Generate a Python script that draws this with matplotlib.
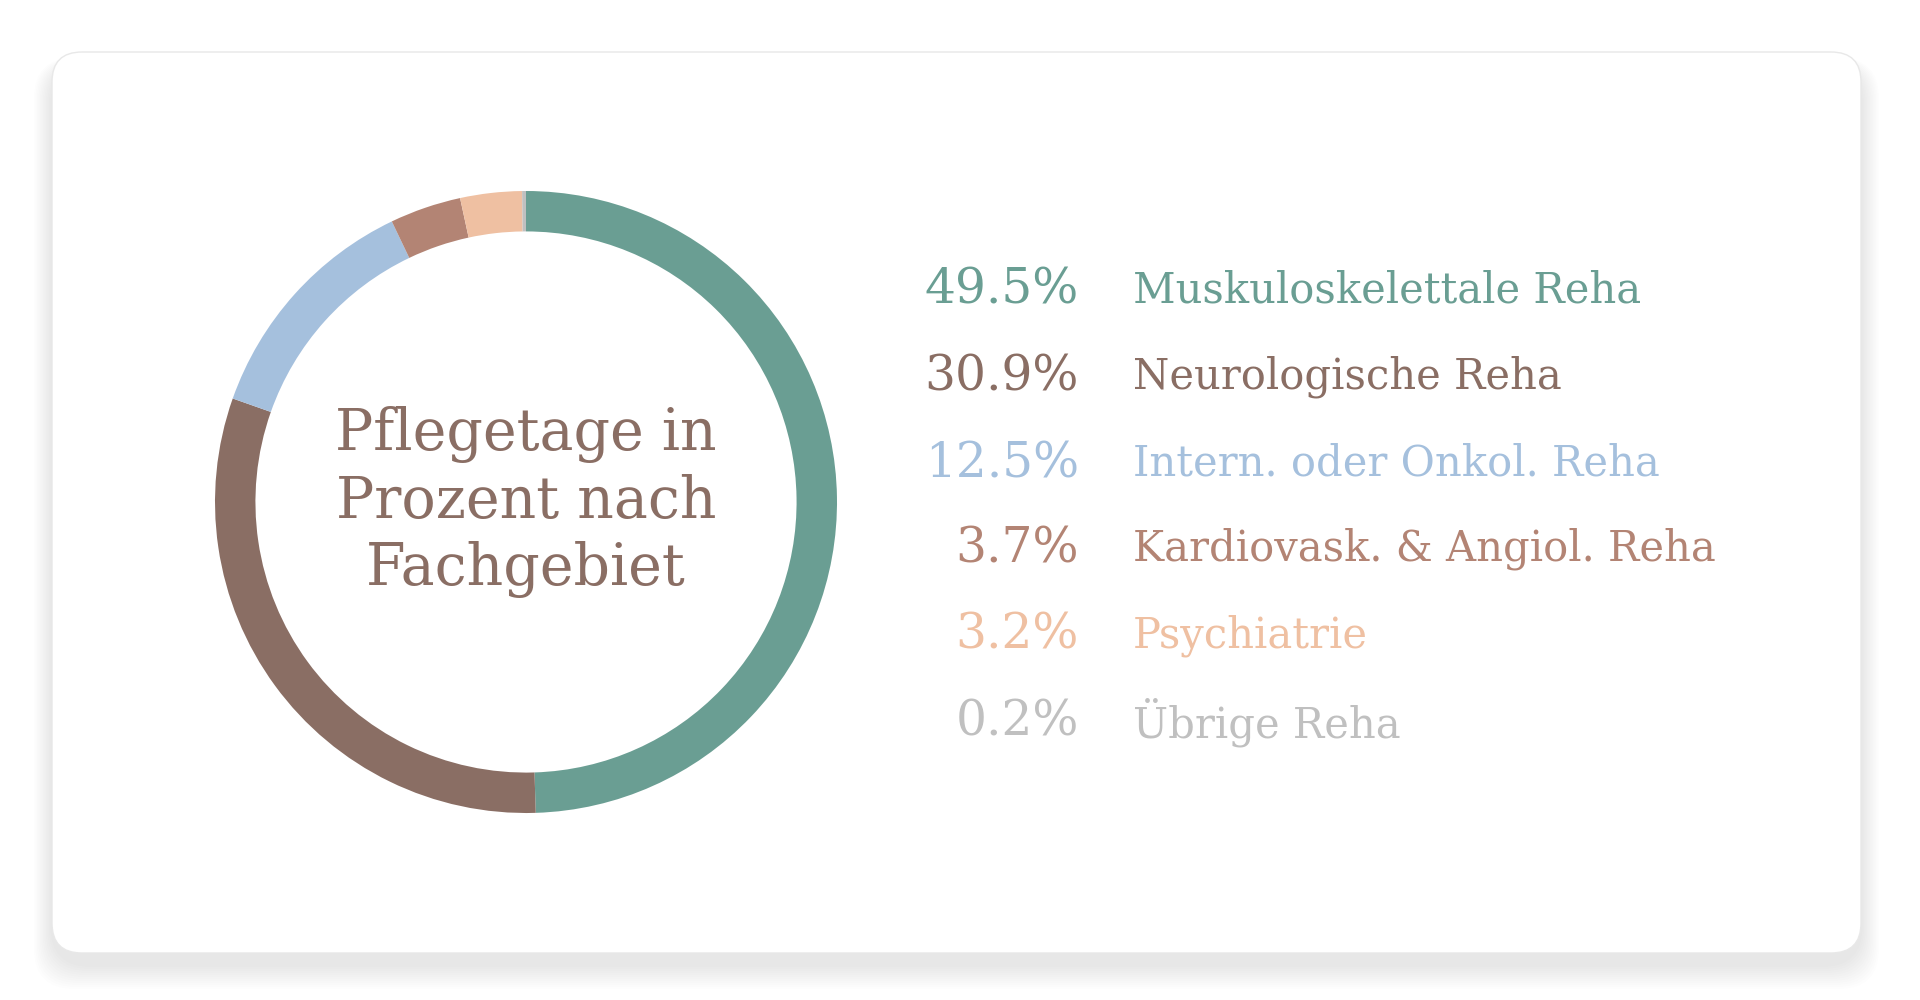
import matplotlib
matplotlib.use("Agg")
import matplotlib.pyplot as plt
from matplotlib.patches import FancyBboxPatch

categories = ["Muskuloskelettale Reha", "Neurologische Reha", "Intern. oder Onkol. Reha",
              "Kardiovask. & Angiol. Reha", "Psychiatrie", "Übrige Reha"]
values = [49.5, 30.9, 12.5, 3.7, 3.2, 0.2]
pct_labels = ["49.5%", "30.9%", "12.5%", "3.7%", "3.2%", "0.2%"]
colors = ["#6a9e93", "#8a6e64", "#a5c0dd", "#b38474", "#efc0a2", "#c0c0c0"]
title = "Pflegetage in\nProzent nach\nFachgebiet"

W, H = 1920, 1000
fig = plt.figure(figsize=(W/100, H/100), dpi=100)
fig.patch.set_facecolor("white")
bg = fig.add_axes([0, 0, 1, 1]); bg.set_xlim(0, W); bg.set_ylim(0, H); bg.axis("off")
x0, y0, x1, y1 = 52, 1000-953, 1861, 1000-52
for i in range(12, 0, -1):
    bg.add_patch(FancyBboxPatch((x0 - i*1.5, y0 - 12 - i*2), x1-x0 + i*3, y1-y0 + i*2.5,
                 boxstyle="round,pad=0,rounding_size=40", fc="black", ec="none", alpha=0.008))
bg.add_patch(FancyBboxPatch((x0, y0), x1-x0, y1-y0, boxstyle="round,pad=0,rounding_size=30",
             fc="white", ec="#e8e8e8", lw=1))

cx, cy, r = 526, 1000-502, 311
ax = fig.add_axes([(cx-r)/W, (cy-r)/H, 2*r/W, 2*r/H])
ax.pie(values, colors=colors, startangle=90, counterclock=False, radius=1,
       wedgeprops=dict(width=0.13, edgecolor="none"))
ax.set_aspect("equal"); ax.set_xlim(-1, 1); ax.set_ylim(-1, 1)
ax.text(0, 0, title, ha="center", va="center", fontsize=41, color="#8a6e64",
        family="DejaVu Serif", linespacing=1.25)

ys = [234, 305, 376, 446, 517, 588]
for y, p, c, col in zip(ys, pct_labels, categories, colors):
    yy = 1 - (y * 1000/820 + 5) / H
    fig.text(1079/W, yy, p, ha="right", va="center", fontsize=35, color=col, family="DejaVu Serif")
    fig.text(1133/W, yy, c, ha="left", va="center", fontsize=30, color=col, family="DejaVu Serif")

fig.savefig("out.png", dpi=100)
